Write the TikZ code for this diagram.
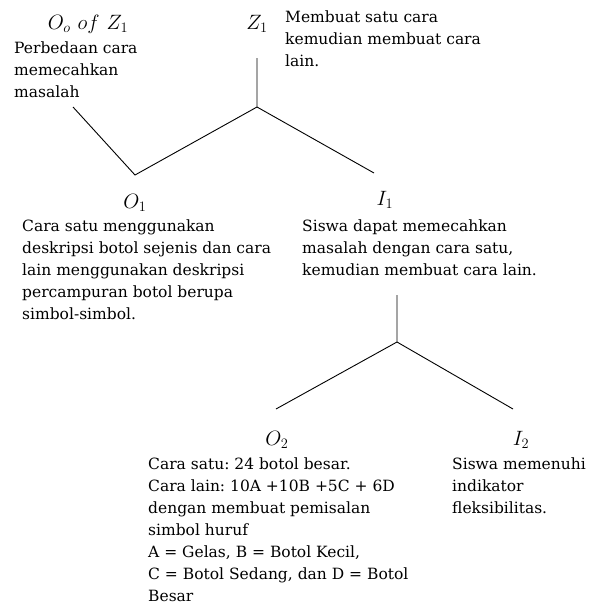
\documentclass[tikz,border=0pt]{standalone}
\usepackage{fontspec}
\setmainfont{DejaVu Serif}
\frenchspacing
\begin{document}
\begin{tikzpicture}[x=1pt, y=-1pt,
	lbl/.style={anchor=base, inner sep=0pt, font=\fontsize{22}{26}\selectfont},
	desc/.style={anchor=north west, align=left, inner sep=0pt, font=\fontsize{15.5}{22}\selectfont},
	wire/.style={line width=0.9pt}]
	\useasboundingbox (0,0) rectangle (597,606);
	% Labels:
	\node[lbl] (oozlbl) at (88,29) {$O_o\ of\ Z_1$};
	\node[lbl] (zlbl) at (257,29) {$Z_1$};
	\node[lbl] (o1lbl) at (135,208) {$O_1$};
	\node[lbl] (i1lbl) at (385,205) {$I_1$};
	\node[lbl] (o2lbl) at (277,445) {$O_2$};
	\node[lbl] (i2lbl) at (521,445) {$I_2$};
	% Descriptions:
	\node[desc] (oozdesc) at (14,42) {Perbedaan cara\\memecahkan\\masalah};
	\node[desc] (zdesc) at (285,11) {Membuat satu cara\\kemudian membuat cara\\lain.};
	\node[desc] (o1desc) at (22,220) {Cara satu menggunakan\\deskripsi botol sejenis dan cara\\lain menggunakan deskripsi\\percampuran botol berupa\\simbol-simbol.};
	\node[desc] (i1desc) at (302,220) {Siswa dapat memecahkan\\masalah dengan cara satu,\\kemudian membuat cara lain.};
	\node[desc] (o2desc) at (148,458) {Cara satu: 24 botol besar.\\Cara lain: 10A +10B +5C + 6D\\dengan membuat pemisalan\\simbol huruf\\A = Gelas, B = Botol Kecil,\\C = Botol Sedang, dan D = Botol\\Besar};
	\node[desc] (i2desc) at (452,458) {Siswa memenuhi\\indikator\\fleksibilitas.};
	% Paths and wires:
	\coordinate (ztop) at (257,58);
	\coordinate (zjoin) at (257,107);
	\coordinate (ooend) at (73,107);
	\coordinate (o1end) at (135,175);
	\coordinate (i1end) at (374,173);
	\coordinate (i1top) at (397,295);
	\coordinate (i1join) at (397,342);
	\coordinate (o2end) at (276,409);
	\coordinate (i2end) at (513,409);
	\draw[wire] (ztop) -- (zjoin) -- (o1end) -- (ooend);
	\draw[wire] (zjoin) -- (i1end);
	\draw[wire] (i1top) -- (i1join) -- (o2end);
	\draw[wire] (i1join) -- (i2end);
\end{tikzpicture}
\end{document}
